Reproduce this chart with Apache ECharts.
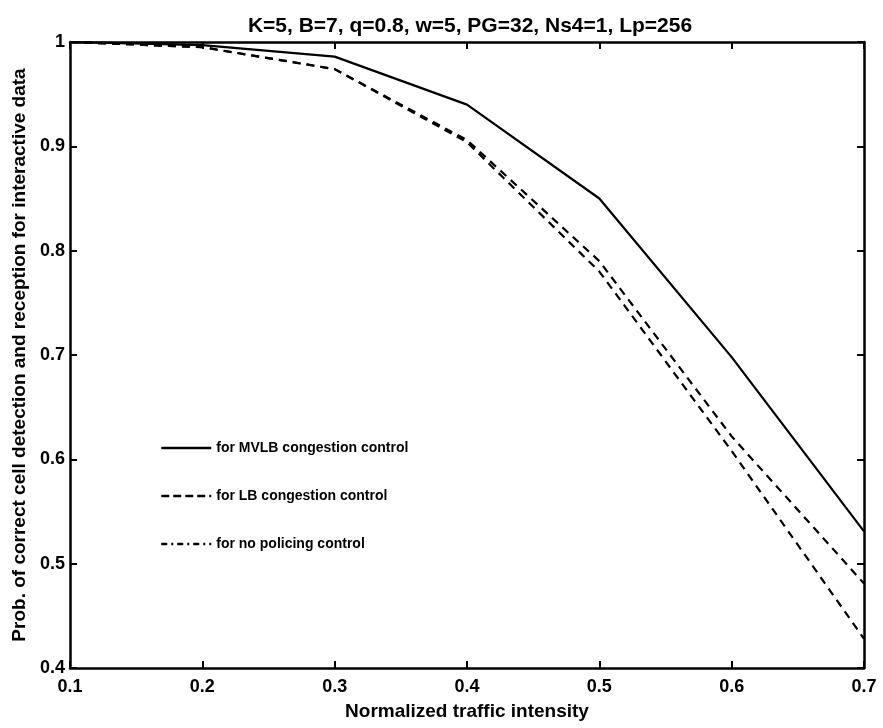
<!DOCTYPE html>
<html>
<head>
<meta charset="utf-8">
<script src="https://cdn.jsdelivr.net/npm/echarts@6/dist/echarts.min.js"></script>
<style>html,body{margin:0;padding:0;background:#fff}#c{width:883px;height:728px}</style>
</head>
<body>
<div id="c"></div>
<script>
var titleText = 'K=5, B=7, q=0.8, w=5, PG=32, Ns4=1, Lp=256';
var xName = 'Normalized traffic intensity';
var yName = 'Prob. of correct cell detection and reception for interactive data';
var intensity = [0.1, 0.2, 0.3, 0.4, 0.5, 0.6, 0.7];
var mvlb = [1.0, 0.997, 0.986, 0.940, 0.850, 0.698, 0.531];
var lb   = [1.0, 0.995, 0.974, 0.906, 0.790, 0.622, 0.481];
var np   = [1.0, 0.995, 0.974, 0.904, 0.780, 0.608, 0.428];
var seriesNames = ['for MVLB congestion control', 'for LB congestion control', 'for no policing control'];
var xTicks = [0.1, 0.2, 0.3, 0.4, 0.5, 0.6, 0.7];
var yTicks = [0.4, 0.5, 0.6, 0.7, 0.8, 0.9, 1];

function pairs(xs, ys){ return xs.map(function(x,i){ return [x, ys[i]]; }); }
function fmt(v){ var r = Math.round(v*10)/10; return r === 1 ? '1' : r.toFixed(1); }

var font = 'Liberation Sans';
var axisCommon = {
  axisLine: {show: true, lineStyle: {color: '#000', width: 2.5}},
  axisTick: {show: true, inside: true, length: 7, lineStyle: {color: '#000', width: 2}},
  splitLine: {show: false}
};
var hidden = {color: 'rgba(0,0,0,0)', borderColor: 'rgba(0,0,0,0)', borderWidth: 0};
var chart = echarts.init(document.getElementById('c'), null, {renderer: 'canvas'});
chart.setOption({
  backgroundColor: '#fff',
  animation: false,
  title: {text: titleText, left: 465, textAlign: 'center', top: 11,
    textStyle: {fontFamily: font, fontSize: 21, fontWeight: 'bold', color: '#000'}},
  grid: {left: 70, right: 19, top: 42, bottom: 60},
  legend: {
    orient: 'vertical', left: 155, top: 436, itemWidth: 50, itemHeight: 14, itemGap: 34,
    itemStyle: hidden,
    textStyle: {fontFamily: font, fontSize: 14, fontWeight: 'bold', color: '#000'},
    data: [
      {name: seriesNames[0], lineStyle: {type: 'solid', width: 2.5}, itemStyle: hidden},
      {name: seriesNames[1], lineStyle: {type: [8, 4], width: 2.5}, itemStyle: hidden},
      {name: seriesNames[2], lineStyle: {type: [6, 4, 2, 4], width: 2.5}, itemStyle: hidden}
    ]
  },
  xAxis: [
    Object.assign({type: 'value', min: 0.1, max: 0.7, interval: 0.1, position: 'bottom',
      name: xName, nameLocation: 'middle', nameGap: 34,
      nameTextStyle: {fontFamily: font, fontSize: 19, fontWeight: 'bold', color: '#000'},
      axisLabel: {fontFamily: font, fontSize: 18, fontWeight: 'bold', color: '#000', margin: 10, formatter: fmt,
        customValues: xTicks}}, axisCommon),
    Object.assign({type: 'value', min: 0.1, max: 0.7, interval: 0.1, position: 'top',
      axisLabel: {show: false}}, axisCommon)
  ],
  yAxis: [
    Object.assign({type: 'value', min: 0.4, max: 1, interval: 0.1, position: 'left',
      name: yName, nameLocation: 'middle', nameGap: 33,
      nameTextStyle: {fontFamily: font, fontSize: 19, fontWeight: 'bold', color: '#000'},
      axisLabel: {fontFamily: font, fontSize: 18, fontWeight: 'bold', color: '#000', margin: 5, formatter: fmt,
        customValues: yTicks}}, axisCommon),
    Object.assign({type: 'value', min: 0.4, max: 1, interval: 0.1, position: 'right',
      axisLabel: {show: false}}, axisCommon)
  ],
  series: [
    {name: seriesNames[0], type: 'line', symbol: 'none', data: pairs(intensity, mvlb),
      lineStyle: {color: '#000', width: 2.2, type: 'solid'}, itemStyle: {color: '#000'}},
    {name: seriesNames[1], type: 'line', symbol: 'none', data: pairs(intensity, lb),
      lineStyle: {color: '#000', width: 2.2, type: [8, 6]}, itemStyle: {color: '#000'}},
    {name: seriesNames[2], type: 'line', symbol: 'none', data: pairs(intensity, np),
      lineStyle: {color: '#000', width: 2.2, type: [8, 6]}, itemStyle: {color: '#000'}}
  ]
});
</script>
</body>
</html>
